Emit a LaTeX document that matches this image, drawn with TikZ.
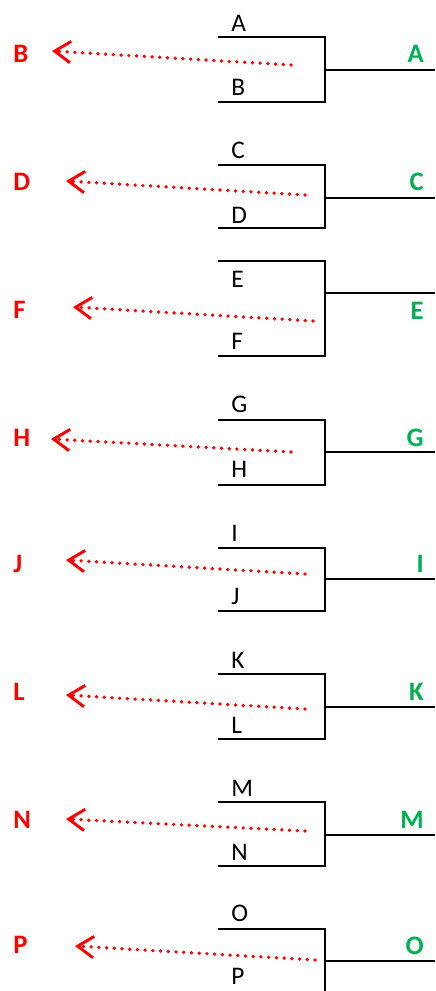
\documentclass[tikz,border=0pt]{standalone}
\usepackage{fontspec}
\setmainfont{Carlito}
\usetikzlibrary{arrows.meta}
\definecolor{losered}{RGB}{255,0,0}
\definecolor{wingreen}{RGB}{0,176,80}

\begin{document}
\begin{tikzpicture}[x=0.75pt, y=-0.75pt,
    bracket/.style={line width=1.7pt},
    pair/.style={anchor=west, inner sep=0pt, font=\fontsize{19}{21}\selectfont},
    winner/.style={anchor=east, inner sep=0pt, text=wingreen, font=\fontsize{20}{22}\selectfont\bfseries},
    loser/.style={anchor=west, inner sep=0pt, text=losered, font=\fontsize{20}{22}\selectfont\bfseries},
    moveto/.style={losered, line width=2.8pt, line cap=round, dash pattern=on 0pt off 5.8pt,
        -{Straight Barb[length=12pt, width=16pt, line width=2.2pt]}}]

    % Fix the page to the size of the picture
    \useasboundingbox (0,0) rectangle (435,991);
    \clip (0,0) rectangle (435,991);

    % Bracket A / B
    \coordinate (Atop) at (218,37);
    \coordinate (Abot) at (218,102);
    \coordinate (Astem) at (325,70);
    \coordinate (Aend) at (435,70);
    \draw[bracket] (Atop) -| (Astem) |- (Abot);
    \draw[bracket] (Astem) -- (Aend);
    \node[pair] (A) at (231,23) {A};
    \node[pair] (B) at (231,87) {B};
    \node[winner] (wA) at (424,54) {A};
    \node[loser] (lB) at (13,54) {B};
    \coordinate (Bfrom) at (291,65);
    \coordinate (Bto) at (52,51);
    \draw[moveto] (Bfrom) -- (Bto);

    % Bracket C / D
    \coordinate (Ctop) at (218,165);
    \coordinate (Cbot) at (218,228);
    \coordinate (Cstem) at (325,198);
    \coordinate (Cend) at (435,198);
    \draw[bracket] (Ctop) -| (Cstem) |- (Cbot);
    \draw[bracket] (Cstem) -- (Cend);
    \node[pair] (C) at (231,150) {C};
    \node[pair] (D) at (231,215) {D};
    \node[winner] (wC) at (424,182) {C};
    \node[loser] (lD) at (13,182) {D};
    \coordinate (Dfrom) at (305,195);
    \coordinate (Dto) at (66,181);
    \draw[moveto] (Dfrom) -- (Dto);

    % Bracket E / F
    \coordinate (Etop) at (218,261);
    \coordinate (Ebot) at (218,356);
    \coordinate (Estem) at (325,293);
    \coordinate (Eend) at (435,293);
    \draw[bracket] (Etop) -| (Estem) |- (Ebot);
    \draw[bracket] (Estem) -- (Eend);
    \node[pair] (E) at (231,279) {E};
    \node[pair] (F) at (231,341) {F};
    \node[winner] (wE) at (424,311) {E};
    \node[loser] (lF) at (13,310) {F};
    \coordinate (Ffrom) at (313,321);
    \coordinate (Fto) at (73,307);
    \draw[moveto] (Ffrom) -- (Fto);

    % Bracket G / H
    \coordinate (Gtop) at (218,420);
    \coordinate (Gbot) at (218,485);
    \coordinate (Gstem) at (325,452);
    \coordinate (Gend) at (435,452);
    \draw[bracket] (Gtop) -| (Gstem) |- (Gbot);
    \draw[bracket] (Gstem) -- (Gend);
    \node[pair] (G) at (231,404) {G};
    \node[pair] (H) at (231,469) {H};
    \node[winner] (wG) at (424,438) {G};
    \node[loser] (lH) at (13,438) {H};
    \coordinate (Hfrom) at (291,452);
    \coordinate (Hto) at (51,439);
    \draw[moveto] (Hfrom) -- (Hto);

    % Bracket I / J
    \coordinate (Itop) at (218,548);
    \coordinate (Ibot) at (218,611);
    \coordinate (Istem) at (325,579);
    \coordinate (Iend) at (435,579);
    \draw[bracket] (Itop) -| (Istem) |- (Ibot);
    \draw[bracket] (Istem) -- (Iend);
    \node[pair] (I) at (231,533) {I};
    \node[pair] (J) at (231,596) {J};
    \node[winner] (wI) at (424,564) {I};
    \node[loser] (lJ) at (13,564) {J};
    \coordinate (Jfrom) at (305,574);
    \coordinate (Jto) at (66,560);
    \draw[moveto] (Jfrom) -- (Jto);

    % Bracket K / L
    \coordinate (Ktop) at (218,674);
    \coordinate (Kbot) at (218,739);
    \coordinate (Kstem) at (325,707);
    \coordinate (Kend) at (435,707);
    \draw[bracket] (Ktop) -| (Kstem) |- (Kbot);
    \draw[bracket] (Kstem) -- (Kend);
    \node[pair] (K) at (231,660) {K};
    \node[pair] (L) at (231,725) {L};
    \node[winner] (wK) at (424,692) {K};
    \node[loser] (lL) at (13,692) {L};
    \coordinate (Lfrom) at (305,709);
    \coordinate (Lto) at (66,695);
    \draw[moveto] (Lfrom) -- (Lto);

    % Bracket M / N
    \coordinate (Mtop) at (218,802);
    \coordinate (Mbot) at (218,866);
    \coordinate (Mstem) at (325,835);
    \coordinate (Mend) at (435,835);
    \draw[bracket] (Mtop) -| (Mstem) |- (Mbot);
    \draw[bracket] (Mstem) -- (Mend);
    \node[pair] (M) at (231,788) {M};
    \node[pair] (N) at (231,852) {N};
    \node[winner] (wM) at (424,820) {M};
    \node[loser] (lN) at (13,820) {N};
    \coordinate (Nfrom) at (305,831);
    \coordinate (Nto) at (66,819);
    \draw[moveto] (Nfrom) -- (Nto);

    % Bracket O / P (cut by the bottom edge)
    \coordinate (Otop) at (218,929);
    \coordinate (Obot) at (218,994);
    \coordinate (Ostem) at (325,961);
    \coordinate (Oend) at (435,961);
    \draw[bracket] (Otop) -| (Ostem) |- (Obot);
    \draw[bracket] (Ostem) -- (Oend);
    \node[pair] (O) at (231,913) {O};
    \node[pair] (P) at (231,976) {P};
    \node[winner] (wO) at (424,946) {O};
    \node[loser] (lP) at (13,945) {P};
    \coordinate (Pfrom) at (315,960);
    \coordinate (Pto) at (75,946);
    \draw[moveto] (Pfrom) -- (Pto);

\end{tikzpicture}
\end{document}
